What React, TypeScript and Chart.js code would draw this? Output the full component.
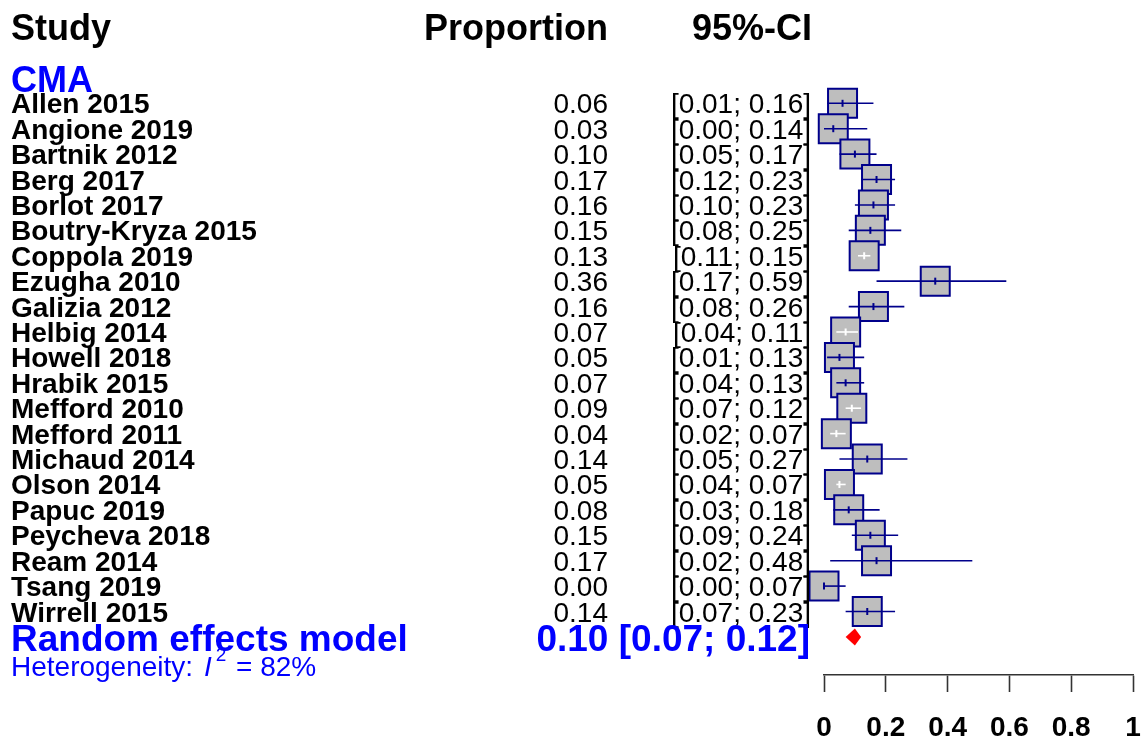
import React, { useEffect, useRef } from 'react';
import { Chart, registerables } from 'chart.js';

Chart.register(...registerables);

// ---------------- data ----------------
const GROUP_LABEL = 'CMA';
const STUDIES = [
  'Allen 2015', 'Angione 2019', 'Bartnik 2012', 'Berg 2017', 'Borlot 2017',
  'Boutry-Kryza 2015', 'Coppola 2019', 'Ezugha 2010', 'Galizia 2012', 'Helbig 2014',
  'Howell 2018', 'Hrabik 2015', 'Mefford 2010', 'Mefford 2011', 'Michaud 2014',
  'Olson 2014', 'Papuc 2019', 'Peycheva 2018', 'Ream 2014', 'Tsang 2019', 'Wirrell 2015',
];
const PROPORTIONS = [0.06, 0.03, 0.10, 0.17, 0.16, 0.15, 0.13, 0.36, 0.16, 0.07, 0.05, 0.07, 0.09, 0.04, 0.14, 0.05, 0.08, 0.15, 0.17, 0.00, 0.14];
const CI_LOWER = [0.01, 0.00, 0.05, 0.12, 0.10, 0.08, 0.11, 0.17, 0.08, 0.04, 0.01, 0.04, 0.07, 0.02, 0.05, 0.04, 0.03, 0.09, 0.02, 0.00, 0.07];
const CI_UPPER = [0.16, 0.14, 0.17, 0.23, 0.23, 0.25, 0.15, 0.59, 0.26, 0.11, 0.13, 0.13, 0.12, 0.07, 0.27, 0.07, 0.18, 0.24, 0.48, 0.07, 0.23];
const RE_LABEL = 'Random effects model';
const RE_ESTIMATE = 0.10;
const RE_LOWER = 0.07;
const RE_UPPER = 0.12;
const HETEROGENEITY_I2 = '82%';
const HEADERS = ['Study', 'Proportion', '95%-CI'];
const X_TICKS = [0, 0.2, 0.4, 0.6, 0.8, 1];
const X_TICK_LABELS = ['0', '0.2', '0.4', '0.6', '0.8', '1'];

// ---------------- layout / style ----------------
const W = 1146;
const H = 739;
const PLOT_LEFT = 824;
const PLOT_RIGHT = 1133;
const AXIS_Y = 675;
const Y_MIN = -4.065;
const Y_MAX = 22.499;
const ROW_HEADER = -2.98;
const ROW_GROUP = -0.94;
const ROW_RE = 21.0;
const ROW_RE_TEXT = 21.05;
const ROW_HET = 22.15;
const FONT = '"Liberation Sans", Arial, Helvetica, sans-serif';
const BLUE = '#0000FF';
const DARKBLUE = '#00008B';
const BOX_FILL = '#BEBEBE';
const BOX_HALF_PX = 14.5;
const TEXT_X_LEFT = 11;
const PROP_RIGHT = 608;
const CI_RIGHT = 811;

const fmt = (v: number) => v.toFixed(2);

function drawText(ctx: CanvasRenderingContext2D, text: string, x: number, cy: number, size: number, weight: string, align: CanvasTextAlign, color: string, style = 'normal') {
  ctx.font = `${style} ${weight} ${size}px ${FONT}`;
  ctx.textAlign = align;
  ctx.textBaseline = 'alphabetic';
  ctx.fillStyle = color;
  ctx.fillText(text, x, cy + 0.358 * size);
}

const forestPlugin = {
  id: 'forestDecor',
  afterDatasetsDraw(chart: any) {
    const { ctx } = chart;
    const xs = chart.scales.x;
    const ys = chart.scales.y;
    // summary diamond
    const cy = ys.getPixelForValue(ROW_RE);
    const half = 8.5;
    ctx.save();
    ctx.beginPath();
    ctx.moveTo(xs.getPixelForValue(RE_LOWER), cy);
    ctx.lineTo(xs.getPixelForValue(RE_ESTIMATE), cy - half);
    ctx.lineTo(xs.getPixelForValue(RE_UPPER), cy);
    ctx.lineTo(xs.getPixelForValue(RE_ESTIMATE), cy + half);
    ctx.closePath();
    ctx.fillStyle = '#FF0000';
    ctx.fill();
    ctx.restore();
  },
  afterDraw(chart: any) {
    const { ctx } = chart;
    const ys = chart.scales.y;
    ctx.save();
    const hy = ys.getPixelForValue(ROW_HEADER);
    drawText(ctx, HEADERS[0], TEXT_X_LEFT, hy, 36, 'bold', 'left', '#000');
    drawText(ctx, HEADERS[1], PROP_RIGHT, hy, 36, 'bold', 'right', '#000');
    drawText(ctx, HEADERS[2], CI_RIGHT + 1, hy, 36, 'bold', 'right', '#000');

    drawText(ctx, GROUP_LABEL, TEXT_X_LEFT, ys.getPixelForValue(ROW_GROUP), 36, 'bold', 'left', BLUE);

    STUDIES.forEach((name, i) => {
      const cy = ys.getPixelForValue(i);
      drawText(ctx, name, TEXT_X_LEFT, cy, 28, 'bold', 'left', '#000');
      drawText(ctx, fmt(PROPORTIONS[i]), PROP_RIGHT, cy, 28, 'normal', 'right', '#000');
      drawText(ctx, `[${fmt(CI_LOWER[i])}; ${fmt(CI_UPPER[i])}]`, CI_RIGHT, cy, 28, 'normal', 'right', '#000');
    });

    const ry = ys.getPixelForValue(ROW_RE_TEXT);
    drawText(ctx, RE_LABEL, TEXT_X_LEFT, ry, 37, 'bold', 'left', BLUE);
    drawText(ctx, `${fmt(RE_ESTIMATE)} [${fmt(RE_LOWER)}; ${fmt(RE_UPPER)}]`, CI_RIGHT - 1, ry, 37, 'bold', 'right', BLUE);

    // heterogeneity line
    const hty = ys.getPixelForValue(ROW_HET);
    let x = TEXT_X_LEFT;
    const part1 = 'Heterogeneity: ';
    drawText(ctx, part1, x, hty, 28, 'normal', 'left', BLUE);
    x += ctx.measureText(part1).width + 3;
    drawText(ctx, 'I', x, hty, 28, 'normal', 'left', BLUE, 'italic');
    x += ctx.measureText('I').width + 4;
    ctx.font = `normal normal 19px ${FONT}`;
    ctx.fillStyle = BLUE;
    ctx.textAlign = 'left';
    ctx.fillText('2', x, hty + 0.358 * 28 - 15);
    x += ctx.measureText('2').width + 2;
    drawText(ctx, ` = ${HETEROGENEITY_I2}`, x, hty, 28, 'normal', 'left', BLUE);
    ctx.restore();
  },
};

const zeroPadding = (scale: any) => {
  scale.paddingLeft = 0;
  scale.paddingRight = 0;
  scale.paddingTop = 0;
  scale.paddingBottom = 0;
};

export default function App() {
  const ref = useRef<HTMLCanvasElement | null>(null);

  useEffect(() => {
    document.body.style.margin = '0';
    const canvas = ref.current;
    if (!canvas) return;
    const unitPx = PLOT_RIGHT - PLOT_LEFT;
    const halfUnits = BOX_HALF_PX / unitPx;
    const inside = PROPORTIONS.map((p, i) => p - CI_LOWER[i] < halfUnits && CI_UPPER[i] - p < halfUnits);
    const lineColors = inside.map((f) => (f ? '#FFFFFF' : DARKBLUE));

    const whiskers = STUDIES.map((s, i) => ({
      type: 'line' as const,
      label: s,
      data: [
        { x: CI_LOWER[i], y: i },
        { x: CI_UPPER[i], y: i },
      ],
      borderColor: lineColors[i],
      borderWidth: 1.6,
      pointRadius: 0,
      showLine: true,
      order: 2,
      clip: false as any,
    }));

    const chart = new Chart(canvas, {
      type: 'scatter',
      data: {
        datasets: [
          {
            label: 'estimates',
            data: PROPORTIONS.map((p, i) => ({ x: p, y: i })),
            pointStyle: 'rect',
            pointRadius: BOX_HALF_PX / Math.SQRT1_2,
            pointHoverRadius: BOX_HALF_PX / Math.SQRT1_2,
            pointBackgroundColor: BOX_FILL,
            pointBorderColor: DARKBLUE,
            pointBorderWidth: 2,
            order: 3,
            clip: false as any,
          },
          ...whiskers,
          {
            label: 'ticks',
            data: PROPORTIONS.map((p, i) => ({ x: p, y: i })),
            pointStyle: 'line',
            pointRotation: 90,
            pointRadius: 3.5,
            pointHoverRadius: 3.5,
            pointBorderColor: lineColors,
            pointBorderWidth: 2,
            order: 1,
            clip: false as any,
          },
        ] as any,
      },
      options: {
        animation: false,
        responsive: false,
        maintainAspectRatio: false,
        events: [],
        layout: { autoPadding: false, padding: { left: PLOT_LEFT, right: W - PLOT_RIGHT, top: 0, bottom: 0 } },
        plugins: { legend: { display: false }, tooltip: { enabled: false } },
        scales: {
          x: {
            type: 'linear',
            min: X_TICKS[0],
            max: X_TICKS[X_TICKS.length - 1],
            afterBuildTicks: (scale: any) => {
              scale.ticks = X_TICKS.map((v) => ({ value: v }));
            },
            afterFit: (scale: any) => {
              scale.height = H - AXIS_Y;
              zeroPadding(scale);
            },
            ticks: {
              autoSkip: false,
              maxRotation: 0,
              padding: 19,
              color: '#000',
              font: { family: FONT, size: 28, weight: 'bold' },
              callback: (_v: any, idx: number) => X_TICK_LABELS[idx],
            },
            grid: {
              display: true,
              drawOnChartArea: false,
              drawTicks: true,
              tickLength: 17,
              tickColor: '#333333',
              tickWidth: 1.6,
            },
            border: { display: true, color: '#333333', width: 1.6 },
          },
          y: {
            type: 'linear',
            display: false,
            reverse: true,
            min: Y_MIN,
            max: Y_MAX,
            afterFit: (scale: any) => {
              scale.width = 0;
              zeroPadding(scale);
            },
          },
        },
      } as any,
      plugins: [forestPlugin],
    });
    return () => chart.destroy();
  }, []);

  return (
    <div style={{ width: W, height: H, position: 'relative', background: '#fff' }}>
      <canvas ref={ref} width={W} height={H} style={{ display: 'block', width: W, height: H }} />
    </div>
  );
}
